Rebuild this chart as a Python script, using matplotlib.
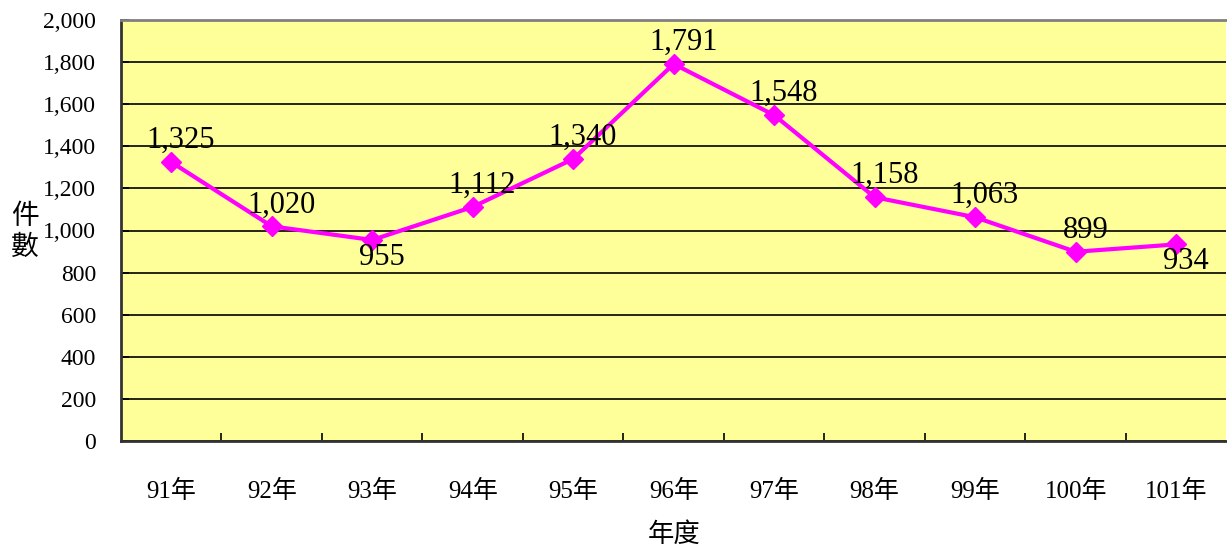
import matplotlib
matplotlib.use('Agg')
import matplotlib.pyplot as plt

years = ['91年', '92年', '93年', '94年', '95年', '96年', '97年', '98年', '99年', '100年', '101年']
counts = [1325, 1020, 955, 1112, 1340, 1791, 1548, 1158, 1063, 899, 934]
label_below = [False, False, True, False, False, False, False, False, False, False, True]

fonts = ['Liberation Serif', 'Noto Sans CJK TC']
plt.rcParams['font.family'] = fonts

fig = plt.figure(figsize=(12.27, 5.52), dpi=100)
ax = fig.add_axes([121/1227, 1 - 441/552, 1 - 121/1227 - 0.0005, (441 - 20)/552])
ax.set_facecolor('#FFFF99')

x = list(range(len(years)))
ax.plot(x, counts, color='#FF00FF', lw=3, marker='D', ms=10, zorder=3)

for i, v in enumerate(counts):
    if label_below[i]:
        ax.annotate(f'{v:,}', (i, v), xytext=(7, -2), textcoords='offset points',
                    ha='center', va='top', fontsize=22)
    else:
        ax.annotate(f'{v:,}', (i, v), xytext=(7, 5), textcoords='offset points',
                    ha='center', va='bottom', fontsize=22)

ax.set_ylim(0, 2000)
ax.set_yticks(range(0, 2001, 200))
ax.set_yticklabels([f'{t:,}' for t in range(0, 2001, 200)], fontsize=17)
ax.yaxis.grid(True, color='black', lw=1.2)
ax.set_axisbelow(True)

ax.set_xlim(-0.5, len(years) - 0.5)
ax.set_xticks(x)
ax.set_xticklabels(years, fontsize=18)
ax.tick_params(axis='x', length=0, pad=28)
ax.set_xticks([i + 0.5 for i in range(len(years) - 1)], minor=True)
ax.tick_params(axis='x', which='minor', direction='in', length=6, width=1.2)
ax.tick_params(axis='y', direction='in', length=6, width=1.2, pad=18)

for s in ['left', 'bottom']:
    ax.spines[s].set_linewidth(2)
    ax.spines[s].set_color('#333333')
ax.spines['top'].set_color('#808080')
ax.spines['top'].set_linewidth(2)
ax.spines['right'].set_visible(False)

fig.text(674/1227, 1 - 535/552, '年度', fontsize=19, ha='center', va='center')
fig.text(25/1227, 1 - 233/552, '件\n數', fontsize=20, ha='center', va='center', linespacing=1.3)

fig.savefig('out.png', dpi=100)
